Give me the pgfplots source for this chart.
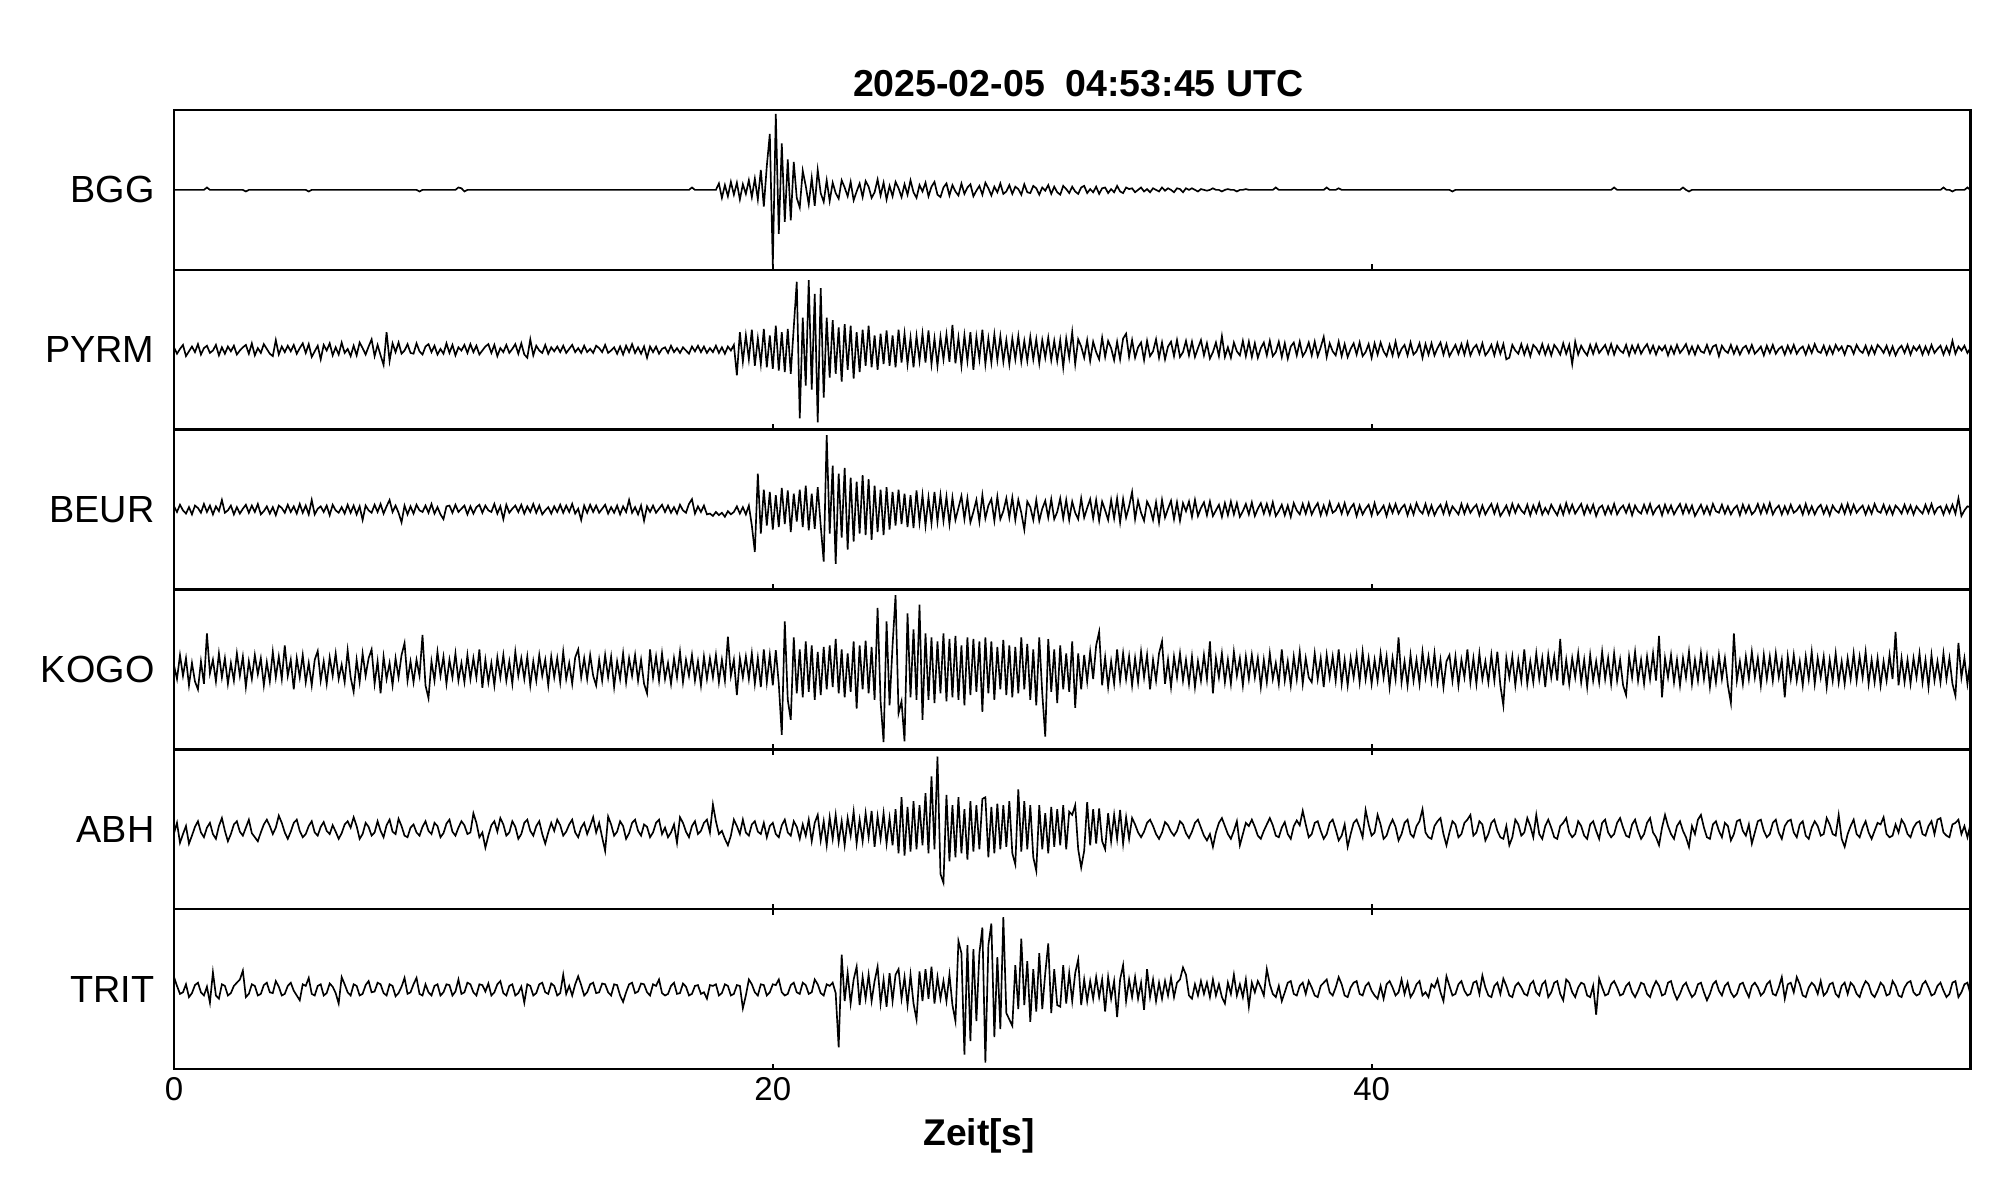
\documentclass[border=0pt]{standalone}
\usepackage{fontspec}
\setmainfont{Liberation Sans}
\usepackage{pgfplots}
\usepackage{pgfplotstable}
\pgfplotsset{compat=1.18}

% amplitudes in percent of half a panel, one sample every 0.1 s (t = 0 ... 60 s)
\pgfplotstableread[row sep=\\]{
v\\
0\\0\\0\\0\\0\\0\\0\\0\\0\\0\\0\\3\\0\\0\\0\\0\\0\\0\\0\\0\\
0\\0\\0\\0\\-2\\0\\0\\0\\0\\0\\0\\0\\0\\0\\0\\0\\0\\0\\0\\0\\
0\\0\\0\\0\\0\\-2\\0\\0\\0\\0\\0\\0\\0\\0\\0\\0\\0\\0\\0\\0\\
0\\0\\0\\0\\0\\0\\0\\0\\0\\0\\0\\0\\0\\0\\0\\0\\0\\0\\0\\0\\
0\\0\\-2\\0\\0\\0\\0\\0\\0\\0\\0\\0\\0\\0\\0\\3\\2\\-2\\0\\0\\
0\\0\\0\\0\\0\\0\\0\\0\\0\\0\\0\\0\\0\\0\\0\\0\\0\\0\\0\\0\\
0\\0\\0\\0\\0\\0\\0\\0\\0\\0\\0\\0\\0\\0\\0\\0\\0\\0\\0\\0\\
0\\0\\0\\0\\0\\0\\0\\0\\0\\0\\0\\0\\0\\0\\0\\0\\0\\0\\0\\0\\
0\\0\\0\\0\\0\\0\\0\\0\\0\\0\\0\\0\\0\\3\\0\\0\\0\\0\\0\\0\\
0\\0\\8\\-10\\6\\-8\\10\\-6\\9\\-12\\7\\-5\\12\\-9\\14\\-12\\25\\-21\\30\\70\\
-94\\95\\-55\\58\\-40\\38\\-38\\35\\-10\\-22\\24\\5\\-18\\15\\-20\\25\\-4\\-15\\12\\-14\\
9\\-4\\-11\\12\\3\\-8\\10\\-13\\-2\\8\\-9\\11\\4\\-10\\-3\\13\\-7\\9\\-12\\5\\
-8\\10\\2\\-9\\7\\-6\\12\\-3\\-10\\6\\-2\\9\\-8\\4\\10\\-6\\-9\\3\\8\\-7\\
6\\-2\\-7\\8\\-5\\3\\7\\-8\\-1\\5\\-6\\9\\2\\-7\\4\\-3\\8\\-5\\-2\\6\\
-5\\4\\1\\-6\\7\\-3\\-4\\5\\2\\-6\\3\\-1\\6\\-5\\4\\-3\\-6\\5\\1\\-4\\
4\\-2\\-5\\3\\5\\-4\\1\\-3\\4\\-5\\2\\3\\-4\\1\\-3\\5\\-2\\-4\\3\\1\\
2\\-3\\0\\3\\-2\\1\\-3\\2\\0\\-2\\3\\-1\\2\\0\\-3\\2\\1\\-3\\2\\0\\
2\\0\\-2\\1\\0\\-1\\0\\2\\0\\0\\-2\\0\\1\\0\\0\\-2\\0\\0\\1\\0\\
0\\0\\0\\0\\0\\0\\0\\0\\3\\0\\0\\0\\0\\0\\0\\0\\0\\0\\0\\0\\
0\\0\\0\\0\\0\\3\\0\\0\\0\\2\\0\\0\\0\\0\\0\\0\\0\\0\\0\\0\\
0\\0\\0\\0\\0\\0\\0\\0\\0\\0\\0\\0\\0\\0\\0\\0\\0\\0\\0\\0\\
0\\0\\0\\0\\0\\0\\0\\-2\\0\\0\\0\\0\\0\\0\\0\\0\\0\\0\\0\\0\\
0\\0\\0\\0\\0\\0\\0\\0\\0\\0\\0\\0\\0\\0\\0\\0\\0\\0\\0\\0\\
0\\0\\0\\0\\0\\0\\0\\0\\0\\0\\0\\0\\0\\0\\0\\0\\0\\0\\0\\0\\
0\\3\\0\\0\\0\\0\\0\\0\\0\\0\\0\\0\\0\\0\\0\\0\\0\\0\\0\\0\\
0\\0\\0\\0\\3\\0\\-2\\0\\0\\0\\0\\0\\0\\0\\0\\0\\0\\0\\0\\0\\
0\\0\\0\\0\\0\\0\\0\\0\\0\\0\\0\\0\\0\\0\\0\\0\\0\\0\\0\\0\\
0\\0\\0\\0\\0\\0\\0\\0\\0\\0\\0\\0\\0\\0\\0\\0\\0\\0\\0\\0\\
0\\0\\0\\0\\0\\0\\0\\0\\0\\0\\0\\0\\0\\0\\0\\0\\0\\0\\0\\0\\
0\\0\\0\\0\\0\\0\\0\\0\\0\\0\\0\\3\\0\\0\\-2\\0\\0\\0\\0\\3\\
0\\
}\tBGG

\pgfplotstableread[row sep=\\]{
v\\
3\\-5\\1\\6\\-8\\-2\\4\\-3\\7\\-6\\2\\5\\-4\\-1\\6\\-7\\3\\-5\\4\\-2\\
5\\-6\\-1\\3\\6\\-5\\8\\-7\\2\\-4\\7\\1\\-5\\-8\\12\\-6\\4\\-3\\5\\-2\\
6\\-5\\2\\8\\-4\\7\\-9\\-2\\5\\-12\\6\\-1\\8\\-7\\3\\-6\\9\\-4\\1\\-8\\
5\\-7\\9\\2\\-6\\4\\13\\-8\\6\\-7\\-19\\22\\-14\\8\\-3\\9\\-5\\-1\\7\\-4\\
-5\\8\\-2\\-6\\4\\7\\-3\\5\\-6\\1\\-5\\8\\-4\\6\\-7\\3\\-1\\6\\-4\\7\\
-3\\5\\-6\\-1\\4\\7\\-4\\6\\-8\\2\\-3\\6\\-4\\1\\7\\-5\\8\\-6\\-10\\13\\
-7\\5\\-1\\-4\\6\\-5\\3\\-2\\4\\-3\\5\\-4\\1\\6\\-3\\2\\-4\\5\\-3\\1\\
-4\\5\\2\\-3\\6\\-4\\-1\\3\\-5\\4\\-6\\5\\-3\\7\\-4\\3\\-5\\4\\-10\\4\\
-3\\4\\-5\\1\\3\\-4\\5\\-3\\2\\-4\\3\\-1\\-5\\4\\-2\\5\\-3\\4\\-4\\2\\
-3\\5\\-4\\3\\-5\\4\\-1\\6\\-32\\22\\-15\\18\\-12\\25\\-20\\14\\-18\\26\\-22\\18\\
-24\\30\\-26\\22\\-28\\26\\-30\\28\\85\\-86\\40\\-45\\87\\-50\\70\\-91\\77\\-60\\40\\-35\\
37\\-30\\28\\-40\\32\\-25\\30\\-36\\22\\-28\\25\\-20\\30\\-22\\18\\-25\\20\\-18\\24\\-20\\
18\\-22\\25\\-16\\20\\-18\\15\\-22\\17\\-14\\20\\-16\\24\\-18\\14\\-20\\16\\-12\\19\\-15\\
31\\-17\\15\\-20\\18\\-14\\22\\-25\\16\\-12\\25\\-18\\14\\-16\\19\\-13\\17\\-15\\12\\-18\\
14\\-12\\17\\-15\\11\\-14\\16\\-12\\13\\-17\\12\\-10\\15\\-13\\11\\-14\\12\\-22\\14\\-10\\
22\\-18\\13\\4\\-10\\12\\-14\\10\\-3\\-12\\15\\-9\\11\\2\\-13\\10\\-12\\14\\20\\-9\\
12\\-10\\3\\9\\-13\\11\\-8\\-2\\13\\-10\\9\\-12\\4\\10\\-8\\12\\-9\\-3\\11\\-7\\
10\\-9\\2\\12\\-7\\8\\-11\\-3\\9\\-8\\17\\-9\\3\\-10\\9\\-2\\-7\\11\\-8\\10\\
-9\\8\\-10\\2\\9\\-7\\11\\-8\\-3\\10\\-9\\8\\-11\\4\\9\\-7\\10\\-8\\-2\\9\\
-7\\10\\-8\\3\\16\\-9\\8\\-2\\-7\\10\\-8\\7\\-9\\1\\8\\-6\\9\\-8\\-3\\7\\
-10\\8\\-6\\9\\-2\\-8\\6\\-7\\10\\-8\\1\\6\\-7\\9\\-6\\-2\\8\\-10\\7\\-6\\
8\\-7\\2\\9\\-6\\7\\-8\\-1\\6\\-5\\7\\-6\\9\\-7\\2\\6\\-5\\8\\-7\\-2\\
6\\-7\\8\\-5\\7\\-12\\-10\\6\\-1\\-5\\7\\-6\\5\\-8\\6\\2\\-5\\7\\-6\\5\\
-7\\6\\1\\-6\\8\\-5\\6\\-18\\10\\-6\\5\\-2\\-7\\6\\-5\\7\\-4\\1\\6\\-5\\
7\\-6\\5\\-1\\-4\\6\\-7\\5\\-4\\6\\-5\\2\\7\\-4\\5\\-6\\4\\-1\\5\\-7\\
4\\-5\\6\\-4\\1\\7\\-5\\4\\-6\\5\\-2\\-4\\6\\-5\\4\\6\\-8\\5\\-1\\-4\\
6\\-5\\4\\-6\\2\\5\\-4\\6\\-5\\-1\\4\\-7\\5\\-4\\6\\-5\\1\\4\\-6\\5\\
-4\\6\\-5\\1\\4\\-6\\5\\-4\\7\\-2\\-4\\5\\-6\\4\\-5\\6\\-1\\4\\-6\\5\\
4\\-5\\6\\-1\\-4\\5\\-6\\4\\-5\\6\\2\\-4\\5\\-6\\4\\-7\\1\\5\\-4\\6\\
-6\\4\\-1\\5\\-6\\4\\-5\\6\\-4\\1\\5\\-6\\4\\-5\\11\\-5\\4\\-1\\5\\-4\\
2\\
}\tPYRM

\pgfplotstableread[row sep=\\]{
v\\
4\\-3\\6\\-1\\-5\\3\\-6\\5\\2\\-4\\7\\-3\\5\\-6\\4\\-2\\12\\-4\\-1\\5\\
-6\\3\\-5\\1\\6\\-4\\5\\-3\\7\\-6\\-2\\4\\-5\\3\\-7\\5\\2\\-4\\6\\-3\\
4\\-5\\7\\-4\\5\\-6\\12\\-6\\1\\4\\-3\\5\\-7\\6\\-1\\-4\\3\\-5\\6\\-4\\
5\\-6\\4\\-13\\5\\-1\\-4\\6\\-3\\7\\-5\\4\\12\\-3\\5\\-4\\-16\\5\\-6\\4\\
-5\\6\\-1\\-3\\5\\-4\\7\\-5\\3\\-6\\-12\\4\\5\\-4\\6\\-3\\1\\5\\-6\\4\\
-5\\3\\6\\-4\\5\\-1\\-3\\7\\-5\\4\\-12\\6\\-4\\1\\5\\-3\\6\\-5\\4\\-3\\
7\\-4\\5\\-6\\-1\\3\\-5\\4\\-3\\6\\-4\\5\\-3\\7\\-5\\1\\-13\\5\\-4\\6\\
-3\\5\\-4\\1\\6\\-5\\3\\-4\\5\\-6\\4\\-3\\12\\-4\\3\\-6\\5\\-14\\4\\-3\\
5\\-4\\1\\6\\-3\\5\\-4\\3\\-5\\6\\-1\\-4\\7\\13\\-5\\4\\-3\\5\\-6\\-5\\
-8\\-3\\-7\\-4\\-9\\-2\\-6\\-3\\4\\-5\\3\\-6\\5\\-20\\-53\\45\\-30\\25\\-20\\22\\
-25\\18\\-22\\27\\-18\\24\\-28\\20\\-15\\25\\-22\\30\\-26\\20\\-24\\28\\-20\\-65\\93\\-30\\
55\\-68\\45\\-35\\52\\-50\\40\\-40\\35\\-30\\43\\-32\\38\\-38\\30\\-28\\25\\-32\\28\\-25\\
22\\-20\\25\\-18\\20\\-22\\18\\-23\\24\\-16\\18\\-20\\15\\-17\\22\\-15\\18\\-14\\16\\-18\\
15\\-13\\2\\17\\-12\\14\\-16\\-3\\12\\-15\\18\\-11\\5\\13\\-14\\16\\-12\\-2\\14\\-10\\
15\\-13\\12\\-4\\-25\\10\\3\\-13\\12\\-14\\1\\11\\-10\\13\\-12\\-3\\14\\-11\\12\\-13\\
10\\-4\\-12\\14\\-10\\2\\13\\-11\\12\\-14\\10\\-1\\-13\\12\\-11\\14\\-16\\13\\-10\\4\\
22\\-12\\11\\-4\\-14\\10\\2\\-13\\9\\-16\\12\\-10\\1\\11\\-12\\9\\-14\\8\\-2\\10\\
-9\\12\\-8\\2\\9\\-7\\10\\-8\\-1\\6\\-9\\8\\-7\\10\\-6\\8\\-9\\-2\\7\\-6\\
9\\-8\\1\\8\\-5\\7\\-6\\9\\-8\\-2\\6\\-7\\5\\-9\\8\\-1\\-6\\7\\-5\\8\\
-6\\2\\8\\-7\\5\\-6\\9\\-4\\-1\\7\\-5\\8\\-6\\2\\7\\-8\\5\\-6\\1\\6\\
-7\\8\\-6\\-1\\5\\-8\\6\\-4\\7\\-5\\2\\6\\-7\\5\\-6\\8\\-1\\-5\\7\\-6\\
5\\-7\\1\\6\\-5\\8\\-6\\4\\-1\\-6\\7\\-5\\6\\-4\\2\\6\\-7\\5\\-6\\1\\
7\\-5\\6\\-8\\-2\\5\\-6\\7\\-4\\6\\-1\\-5\\6\\-7\\5\\-4\\8\\-6\\2\\-5\\
6\\-1\\-7\\5\\-6\\8\\-4\\6\\-5\\1\\7\\-6\\5\\-4\\6\\-8\\2\\5\\-6\\4\\
-5\\7\\-6\\1\\5\\-4\\6\\-7\\5\\-2\\-5\\6\\-4\\7\\-6\\1\\5\\-7\\6\\-4\\
5\\-6\\1\\7\\-5\\6\\-4\\5\\-8\\-1\\6\\-5\\4\\-6\\7\\-2\\-4\\6\\-5\\4\\
-6\\1\\5\\-7\\6\\-4\\5\\-6\\-2\\7\\-5\\6\\-4\\8\\-6\\1\\5\\-6\\4\\-5\\
6\\-4\\-1\\5\\-6\\7\\-5\\4\\-6\\2\\6\\-5\\4\\-7\\5\\-1\\-4\\6\\-5\\7\\
-5\\6\\-4\\1\\5\\-6\\4\\-5\\7\\-2\\-4\\6\\-5\\4\\-6\\5\\1\\-5\\6\\-4\\
5\\-6\\4\\-1\\-5\\6\\-4\\7\\-5\\2\\4\\-6\\5\\-4\\6\\-5\\14\\-8\\-1\\4\\
3\\
}\tBEUR

\pgfplotstableread[row sep=\\]{
v\\
5\\-12\\18\\-8\\14\\-20\\8\\-15\\-25\\10\\-18\\45\\-5\\12\\-15\\20\\-10\\14\\-18\\8\\
-14\\20\\-8\\16\\-22\\10\\-12\\18\\-6\\14\\-20\\9\\-15\\22\\-10\\16\\-12\\30\\-8\\12\\
-25\\14\\-10\\18\\-16\\8\\-20\\12\\23\\-14\\10\\-18\\15\\-8\\20\\-12\\6\\-16\\24\\-10\\
-28\\12\\-16\\20\\-8\\14\\25\\-18\\10\\-30\\16\\-12\\8\\-20\\14\\-10\\18\\33\\-14\\10\\
-16\\12\\-8\\43\\-20\\-36\\10\\-14\\22\\-8\\16\\-18\\12\\-10\\20\\-14\\8\\-16\\18\\-12\\
14\\-10\\25\\-23\\12\\-16\\8\\-20\\15\\-10\\18\\-14\\10\\-18\\22\\-8\\14\\-12\\16\\-20\\
10\\-14\\18\\-8\\12\\-20\\16\\-10\\14\\-16\\22\\-12\\8\\-18\\15\\25\\-10\\14\\-12\\18\\
-8\\-20\\12\\-14\\18\\-10\\16\\-22\\10\\-12\\20\\-16\\14\\-8\\18\\-14\\12\\-18\\-30\\25\\
-10\\16\\-14\\20\\-12\\8\\-18\\14\\-10\\22\\-16\\12\\-8\\18\\-14\\10\\-20\\16\\-12\\14\\
-10\\18\\-16\\12\\-14\\41\\-8\\12\\-32\\14\\-10\\16\\-12\\20\\-18\\14\\-22\\25\\-16\\18\\
-20\\24\\-18\\-82\\60\\-38\\-63\\40\\-30\\25\\-35\\35\\-28\\30\\-38\\22\\-32\\28\\-25\\30\\
-22\\38\\-30\\25\\-35\\20\\-28\\35\\-49\\30\\-25\\36\\-30\\28\\-38\\77\\-40\\-91\\60\\-45\\
30\\93\\-55\\-40\\-90\\70\\-35\\50\\-38\\81\\-63\\45\\-38\\40\\-42\\35\\-30\\45\\-40\\38\\
-35\\42\\-38\\30\\-45\\40\\-32\\38\\-28\\35\\-53\\40\\-30\\35\\-38\\28\\-25\\37\\-32\\30\\
-35\\28\\-30\\40\\-25\\32\\-38\\25\\-45\\40\\-30\\-84\\38\\-28\\25\\-42\\30\\-25\\20\\-28\\
35\\-48\\20\\-25\\18\\-15\\22\\-12\\30\\47\\-20\\15\\-22\\10\\-18\\25\\-14\\20\\-12\\16\\
-20\\14\\-16\\22\\-10\\18\\-25\\12\\-14\\20\\35\\-18\\12\\-22\\16\\-10\\20\\-14\\12\\-18\\
16\\-22\\10\\-14\\18\\-12\\35\\-30\\14\\-10\\20\\-16\\12\\-18\\22\\-8\\14\\-20\\16\\-12\\
18\\-10\\14\\-22\\12\\-16\\20\\-12\\8\\-18\\25\\-14\\10\\-20\\16\\-12\\22\\-18\\14\\-10\\
-16\\20\\-12\\14\\-22\\18\\-10\\16\\-14\\25\\-18\\12\\-20\\14\\-10\\18\\-16\\22\\-12\\14\\
-18\\12\\-14\\20\\-10\\16\\-22\\14\\-12\\40\\-16\\10\\-20\\18\\-14\\12\\-18\\22\\-10\\16\\
-14\\20\\-16\\12\\-22\\10\\18\\-14\\16\\-20\\12\\-10\\25\\-16\\14\\-18\\20\\-12\\10\\-16\\
18\\-14\\22\\-20\\-45\\14\\-10\\16\\-20\\12\\-14\\25\\-18\\10\\-16\\20\\-12\\14\\-22\\18\\
-10\\16\\-14\\38\\-20\\12\\-18\\14\\-10\\20\\-16\\12\\-22\\18\\-14\\10\\-16\\22\\-12\\14\\
-18\\20\\-14\\12\\-20\\-32\\16\\-10\\22\\-14\\12\\-18\\16\\-12\\20\\-14\\42\\-35\\14\\-10\\
18\\-16\\12\\-20\\14\\-10\\22\\-18\\12\\-14\\20\\-12\\16\\-22\\10\\-16\\18\\-12\\14\\-20\\
-42\\45\\-14\\10\\-18\\16\\-12\\22\\-10\\14\\-20\\18\\-12\\16\\-14\\20\\-10\\12\\-35\\16\\
-12\\18\\-14\\10\\-20\\16\\-12\\22\\-18\\14\\-10\\16\\-22\\12\\-14\\20\\-16\\10\\-18\\14\\
-12\\20\\-14\\16\\-10\\22\\-18\\12\\-16\\14\\-20\\10\\-14\\18\\-12\\47\\-20\\14\\-16\\12\\
-18\\14\\-10\\20\\-16\\12\\-22\\18\\-14\\10\\-16\\20\\-12\\14\\-18\\-33\\33\\-10\\14\\-18\\
12\\
}\tKOGO

\pgfplotstableread[row sep=\\]{
v\\
-5\\8\\-17\\-6\\4\\-18\\-8\\3\\10\\-4\\-10\\2\\8\\-6\\-12\\4\\14\\-2\\-15\\-6\\
6\\10\\-3\\-8\\2\\12\\-5\\-10\\-15\\-4\\6\\12\\4\\-6\\2\\17\\8\\-4\\-12\\-3\\
8\\12\\-2\\-10\\-6\\4\\10\\-4\\-8\\3\\9\\-2\\-6\\5\\-3\\-12\\-5\\6\\10\\2\\
15\\4\\-12\\-6\\8\\3\\-8\\-4\\10\\-2\\-10\\5\\12\\-3\\-6\\13\\4\\-8\\-10\\2\\
6\\-4\\-8\\3\\10\\-2\\-6\\8\\4\\-10\\-5\\7\\12\\-3\\-8\\2\\10\\5\\-6\\-4\\
20\\8\\-10\\-4\\-23\\-8\\5\\10\\-3\\14\\6\\-8\\-4\\10\\3\\-12\\-6\\8\\12\\-2\\
-8\\4\\10\\-6\\-18\\-4\\8\\-2\\12\\5\\-8\\-3\\6\\12\\-4\\-10\\2\\8\\-6\\4\\
15\\-4\\8\\-10\\-27\\16\\6\\-8\\-3\\10\\4\\-12\\-5\\8\\12\\-2\\-8\\6\\3\\-10\\
-4\\8\\12\\-6\\2\\-10\\-4\\6\\-17\\15\\8\\-3\\-10\\4\\10\\-6\\-2\\8\\12\\-4\\
31\\10\\-6\\-2\\-12\\-20\\-8\\12\\4\\-6\\12\\-4\\-8\\6\\10\\-3\\-6\\8\\-10\\4\\
8\\-6\\-10\\5\\12\\-4\\-8\\10\\3\\-12\\6\\-8\\12\\-15\\8\\18\\-14\\10\\-20\\15\\
-12\\18\\-16\\10\\-20\\14\\-8\\22\\-18\\12\\-15\\20\\-10\\23\\-22\\16\\-12\\20\\-18\\14\\
-20\\25\\-30\\40\\-33\\28\\-28\\35\\-25\\30\\-20\\45\\-30\\66\\-25\\91\\-56\\-67\\43\\-40\\
30\\-35\\40\\-30\\25\\-38\\35\\-28\\30\\-25\\38\\40\\-35\\28\\-30\\32\\-25\\30\\-22\\35\\
-30\\-44\\50\\-28\\35\\-25\\30\\-35\\-52\\30\\-25\\20\\-30\\28\\-22\\25\\-20\\30\\-25\\22\\
18\\30\\-25\\-48\\-27\\34\\-20\\25\\-18\\26\\-15\\-25\\20\\-15\\18\\-12\\24\\-18\\15\\-12\\
14\\6\\-4\\-10\\-3\\8\\12\\4\\-6\\-12\\-4\\9\\5\\-3\\-8\\-2\\10\\6\\-5\\-11\\
-3\\8\\12\\2\\-8\\-14\\-6\\-22\\-4\\8\\14\\4\\-6\\-12\\-2\\10\\-20\\-6\\8\\4\\
12\\3\\-8\\-12\\-2\\6\\14\\5\\-8\\-10\\2\\9\\-6\\-12\\4\\11\\5\\23\\6\\-10\\
-6\\8\\10\\-2\\-12\\-6\\8\\12\\0\\-14\\-8\\6\\-22\\-6\\8\\12\\2\\-10\\24\\6\\
-8\\-4\\18\\6\\-12\\-8\\4\\12\\3\\-14\\-6\\8\\12\\-6\\-10\\4\\10\\25\\-4\\-10\\
-12\\4\\10\\14\\-6\\-20\\-4\\10\\6\\-10\\-6\\8\\12\\18\\-8\\-4\\10\\6\\-14\\-6\\
8\\12\\-2\\-10\\-12\\4\\-20\\-10\\12\\6\\-8\\-4\\14\\4\\-10\\18\\-6\\-12\\4\\12\\
2\\-10\\-12\\4\\8\\14\\-4\\-10\\-6\\10\\4\\-8\\-12\\6\\10\\-2\\-12\\8\\12\\-4\\
-10\\-6\\8\\14\\2\\-8\\-10\\6\\12\\-2\\-12\\-6\\8\\14\\-4\\-10\\-20\\2\\18\\4\\
-6\\-12\\4\\10\\-2\\-10\\-22\\4\\-6\\12\\18\\2\\-10\\-12\\6\\10\\-2\\-10\\8\\4\\
-14\\-6\\10\\12\\-2\\-8\\6\\-18\\-4\\10\\12\\-2\\-10\\-6\\8\\12\\-4\\-12\\4\\10\\
12\\-4\\-10\\6\\10\\-8\\-12\\2\\10\\4\\-8\\-6\\14\\6\\-6\\-8\\18\\-12\\-22\\-6\\
4\\12\\-6\\-10\\2\\10\\-4\\-12\\-2\\8\\6\\15\\-6\\-10\\-8\\6\\-4\\12\\6\\-6\\
-10\\2\\8\\10\\-6\\-8\\4\\10\\-6\\12\\14\\-4\\-8\\-10\\6\\8\\12\\-6\\4\\-10\\
6\\
}\tABH

\pgfplotstableread[row sep=\\]{
v\\
15\\4\\-6\\-4\\6\\-10\\-5\\5\\8\\-4\\-8\\3\\-17\\21\\-8\\-12\\6\\4\\-8\\-5\\
4\\8\\12\\23\\-10\\-6\\6\\4\\-8\\-6\\5\\8\\-4\\-5\\10\\3\\-8\\-6\\4\\8\\
-2\\-8\\-14\\6\\4\\14\\-6\\-8\\4\\6\\-8\\-5\\7\\3\\-5\\-18\\15\\6\\-4\\-8\\
6\\4\\-8\\-6\\5\\10\\-4\\-3\\8\\6\\-5\\-8\\6\\4\\-9\\-5\\3\\14\\-6\\-4\\
6\\14\\-6\\-8\\6\\-4\\-8\\4\\6\\-8\\-4\\6\\5\\-8\\-3\\12\\-6\\-4\\8\\6\\
-4\\-8\\6\\5\\-3\\7\\-8\\-4\\6\\10\\-5\\-8\\4\\6\\-8\\-5\\3\\-17\\6\\4\\
-8\\-5\\6\\8\\-4\\-6\\7\\4\\-8\\-5\\18\\-6\\4\\-8\\6\\16\\5\\-8\\-4\\6\\
8\\-5\\-4\\7\\6\\-4\\-8\\6\\5\\-8\\-16\\-4\\6\\8\\-5\\-3\\7\\6\\-4\\-8\\
6\\4\\12\\-5\\-8\\-6\\4\\8\\-6\\-5\\7\\3\\-8\\-6\\4\\5\\-6\\-4\\-12\\5\\
4\\6\\-8\\-5\\6\\4\\-8\\-6\\5\\4\\-24\\-8\\12\\6\\-4\\-8\\6\\5\\-8\\-4\\
6\\5\\12\\-4\\-8\\-6\\5\\8\\-4\\-6\\8\\5\\-6\\-4\\12\\6\\-5\\-8\\6\\4\\
8\\-5\\-73\\43\\-15\\20\\-18\\12\\28\\-20\\15\\-12\\18\\-15\\10\\28\\-18\\12\\-22\\20\\
-15\\18\\25\\-12\\15\\-20\\18\\-18\\-38\\22\\-15\\25\\-12\\28\\-18\\15\\-12\\10\\-15\\18\\
-20\\-40\\60\\45\\-82\\55\\-65\\50\\-40\\45\\77\\-92\\55\\82\\-60\\40\\-50\\90\\-30\\-38\\
-46\\30\\-25\\63\\-20\\35\\-41\\25\\-28\\45\\-25\\20\\57\\-30\\25\\-20\\-22\\30\\-18\\20\\
-15\\20\\37\\-20\\12\\-15\\10\\-12\\15\\-10\\12\\-28\\15\\-12\\10\\-35\\12\\30\\-15\\12\\
-10\\15\\-12\\8\\-26\\25\\-10\\12\\-15\\8\\-12\\10\\-8\\14\\-10\\8\\12\\27\\18\\-8\\
-12\\6\\-8\\10\\-6\\8\\-10\\12\\-8\\6\\-10\\-18\\8\\-6\\18\\-8\\6\\-10\\12\\-22\\
8\\-4\\10\\2\\-8\\25\\6\\-6\\-10\\4\\-15\\-4\\8\\10\\-6\\-8\\4\\8\\-6\\10\\
2\\-8\\-10\\4\\8\\12\\-4\\-8\\2\\15\\6\\-8\\-10\\2\\8\\10\\-6\\-8\\4\\8\\
-2\\-8\\-12\\4\\-12\\6\\10\\2\\-8\\-4\\12\\-6\\8\\-10\\-4\\6\\10\\-8\\-4\\-10\\
6\\2\\12\\-4\\-15\\16\\4\\-8\\-6\\6\\10\\-2\\-8\\-6\\8\\10\\-6\\17\\2\\-8\\
-10\\4\\8\\-6\\13\\4\\-8\\-10\\4\\8\\2\\-6\\-8\\6\\10\\-4\\-8\\6\\10\\-10\\
-4\\8\\10\\-6\\-14\\12\\8\\-4\\-10\\2\\8\\6\\-8\\-10\\4\\-32\\13\\2\\-8\\-6\\
6\\10\\2\\-8\\-6\\4\\8\\-4\\-10\\-2\\8\\6\\-6\\-10\\2\\10\\4\\-8\\-6\\8\\
10\\-4\\-13\\-6\\4\\8\\-2\\-10\\-6\\6\\8\\-4\\-14\\-6\\6\\10\\-2\\-8\\4\\8\\
-4\\-10\\-6\\6\\8\\-2\\-10\\4\\8\\2\\-8\\-4\\6\\10\\-6\\-8\\2\\15\\-12\\6\\
8\\-4\\15\\6\\-8\\-10\\2\\8\\4\\-6\\10\\-8\\-4\\6\\8\\-6\\-10\\4\\8\\-6\\
8\\4\\-6\\-10\\2\\10\\6\\-6\\-10\\-2\\8\\4\\-8\\-6\\10\\4\\-8\\-10\\2\\8\\
10\\-4\\-8\\-6\\6\\10\\2\\-8\\-6\\4\\8\\-2\\-10\\-6\\8\\10\\-10\\-4\\6\\8\\
-6\\
}\tTRIT

\pgfplotsset{
  panel/.style={
    width=598.8pt, height=53.28pt, scale only axis,
    anchor=south west,
    xmin=0, xmax=60, ymin=-1, ymax=1,
    xtick={20,40}, xticklabels={}, xtick pos=lower,
    tick align=inside, major tick length=1.8pt,
    ytick={0}, ytick pos=left, ytick style={draw=none},
    axis line style={line width=0.8pt},
    xtick style={line width=0.7pt, black},
    yticklabel style={font=\fontsize{12.6}{14}\selectfont, xshift=-3pt},
  },
  trace/.style={black, line width=0.55pt, no markers},
}

\begin{document}
\begin{tikzpicture}
\useasboundingbox (0,0) rectangle (668.33pt,400.67pt);

\begin{axis}[panel, at={(58pt,310.73pt)}, yticklabels={BGG},
  title={2025-02-05\ \ 04:53:45 UTC},
  title style={font=\bfseries\fontsize{12.5}{14}\selectfont, at={(0.5,1)}, anchor=base, yshift=-1.4pt, xshift=2pt}]
\addplot[trace] table[x index=0, y index=0, x expr=\coordindex/10, y expr=\thisrowno{0}/100] {\tBGG};
\end{axis}

\begin{axis}[panel, at={(58pt,257.45pt)}, yticklabels={PYRM}]
\addplot[trace] table[x index=0, y index=0, x expr=\coordindex/10, y expr=\thisrowno{0}/100] {\tPYRM};
\end{axis}

\begin{axis}[panel, at={(58pt,204.17pt)}, yticklabels={BEUR}]
\addplot[trace] table[x index=0, y index=0, x expr=\coordindex/10, y expr=\thisrowno{0}/100] {\tBEUR};
\end{axis}

\begin{axis}[panel, at={(58pt,150.89pt)}, yticklabels={KOGO}]
\addplot[trace] table[x index=0, y index=0, x expr=\coordindex/10, y expr=\thisrowno{0}/100] {\tKOGO};
\end{axis}

\begin{axis}[panel, at={(58pt,97.61pt)}, yticklabels={ABH}, xtick pos=both]
\addplot[trace] table[x index=0, y index=0, x expr=\coordindex/10, y expr=\thisrowno{0}/100] {\tABH};
\end{axis}

\begin{axis}[panel, at={(58pt,44.33pt)}, yticklabels={TRIT}, xtick pos=both,
  xtick={0,20,40}, xticklabels={0,20,40}, xticklabel pos=lower,
  xticklabel style={font=\fontsize{11}{13}\selectfont, anchor=base, yshift=-10.4pt},
  xlabel={Zeit[s]},
  xlabel style={font=\bfseries\fontsize{12.4}{14}\selectfont, at={(axis description cs:0.5,0)}, anchor=base, yshift=-25.6pt, xshift=-31pt}]
\addplot[trace] table[x index=0, y index=0, x expr=\coordindex/10, y expr=\thisrowno{0}/100] {\tTRIT};
\end{axis}
\end{tikzpicture}
\end{document}
